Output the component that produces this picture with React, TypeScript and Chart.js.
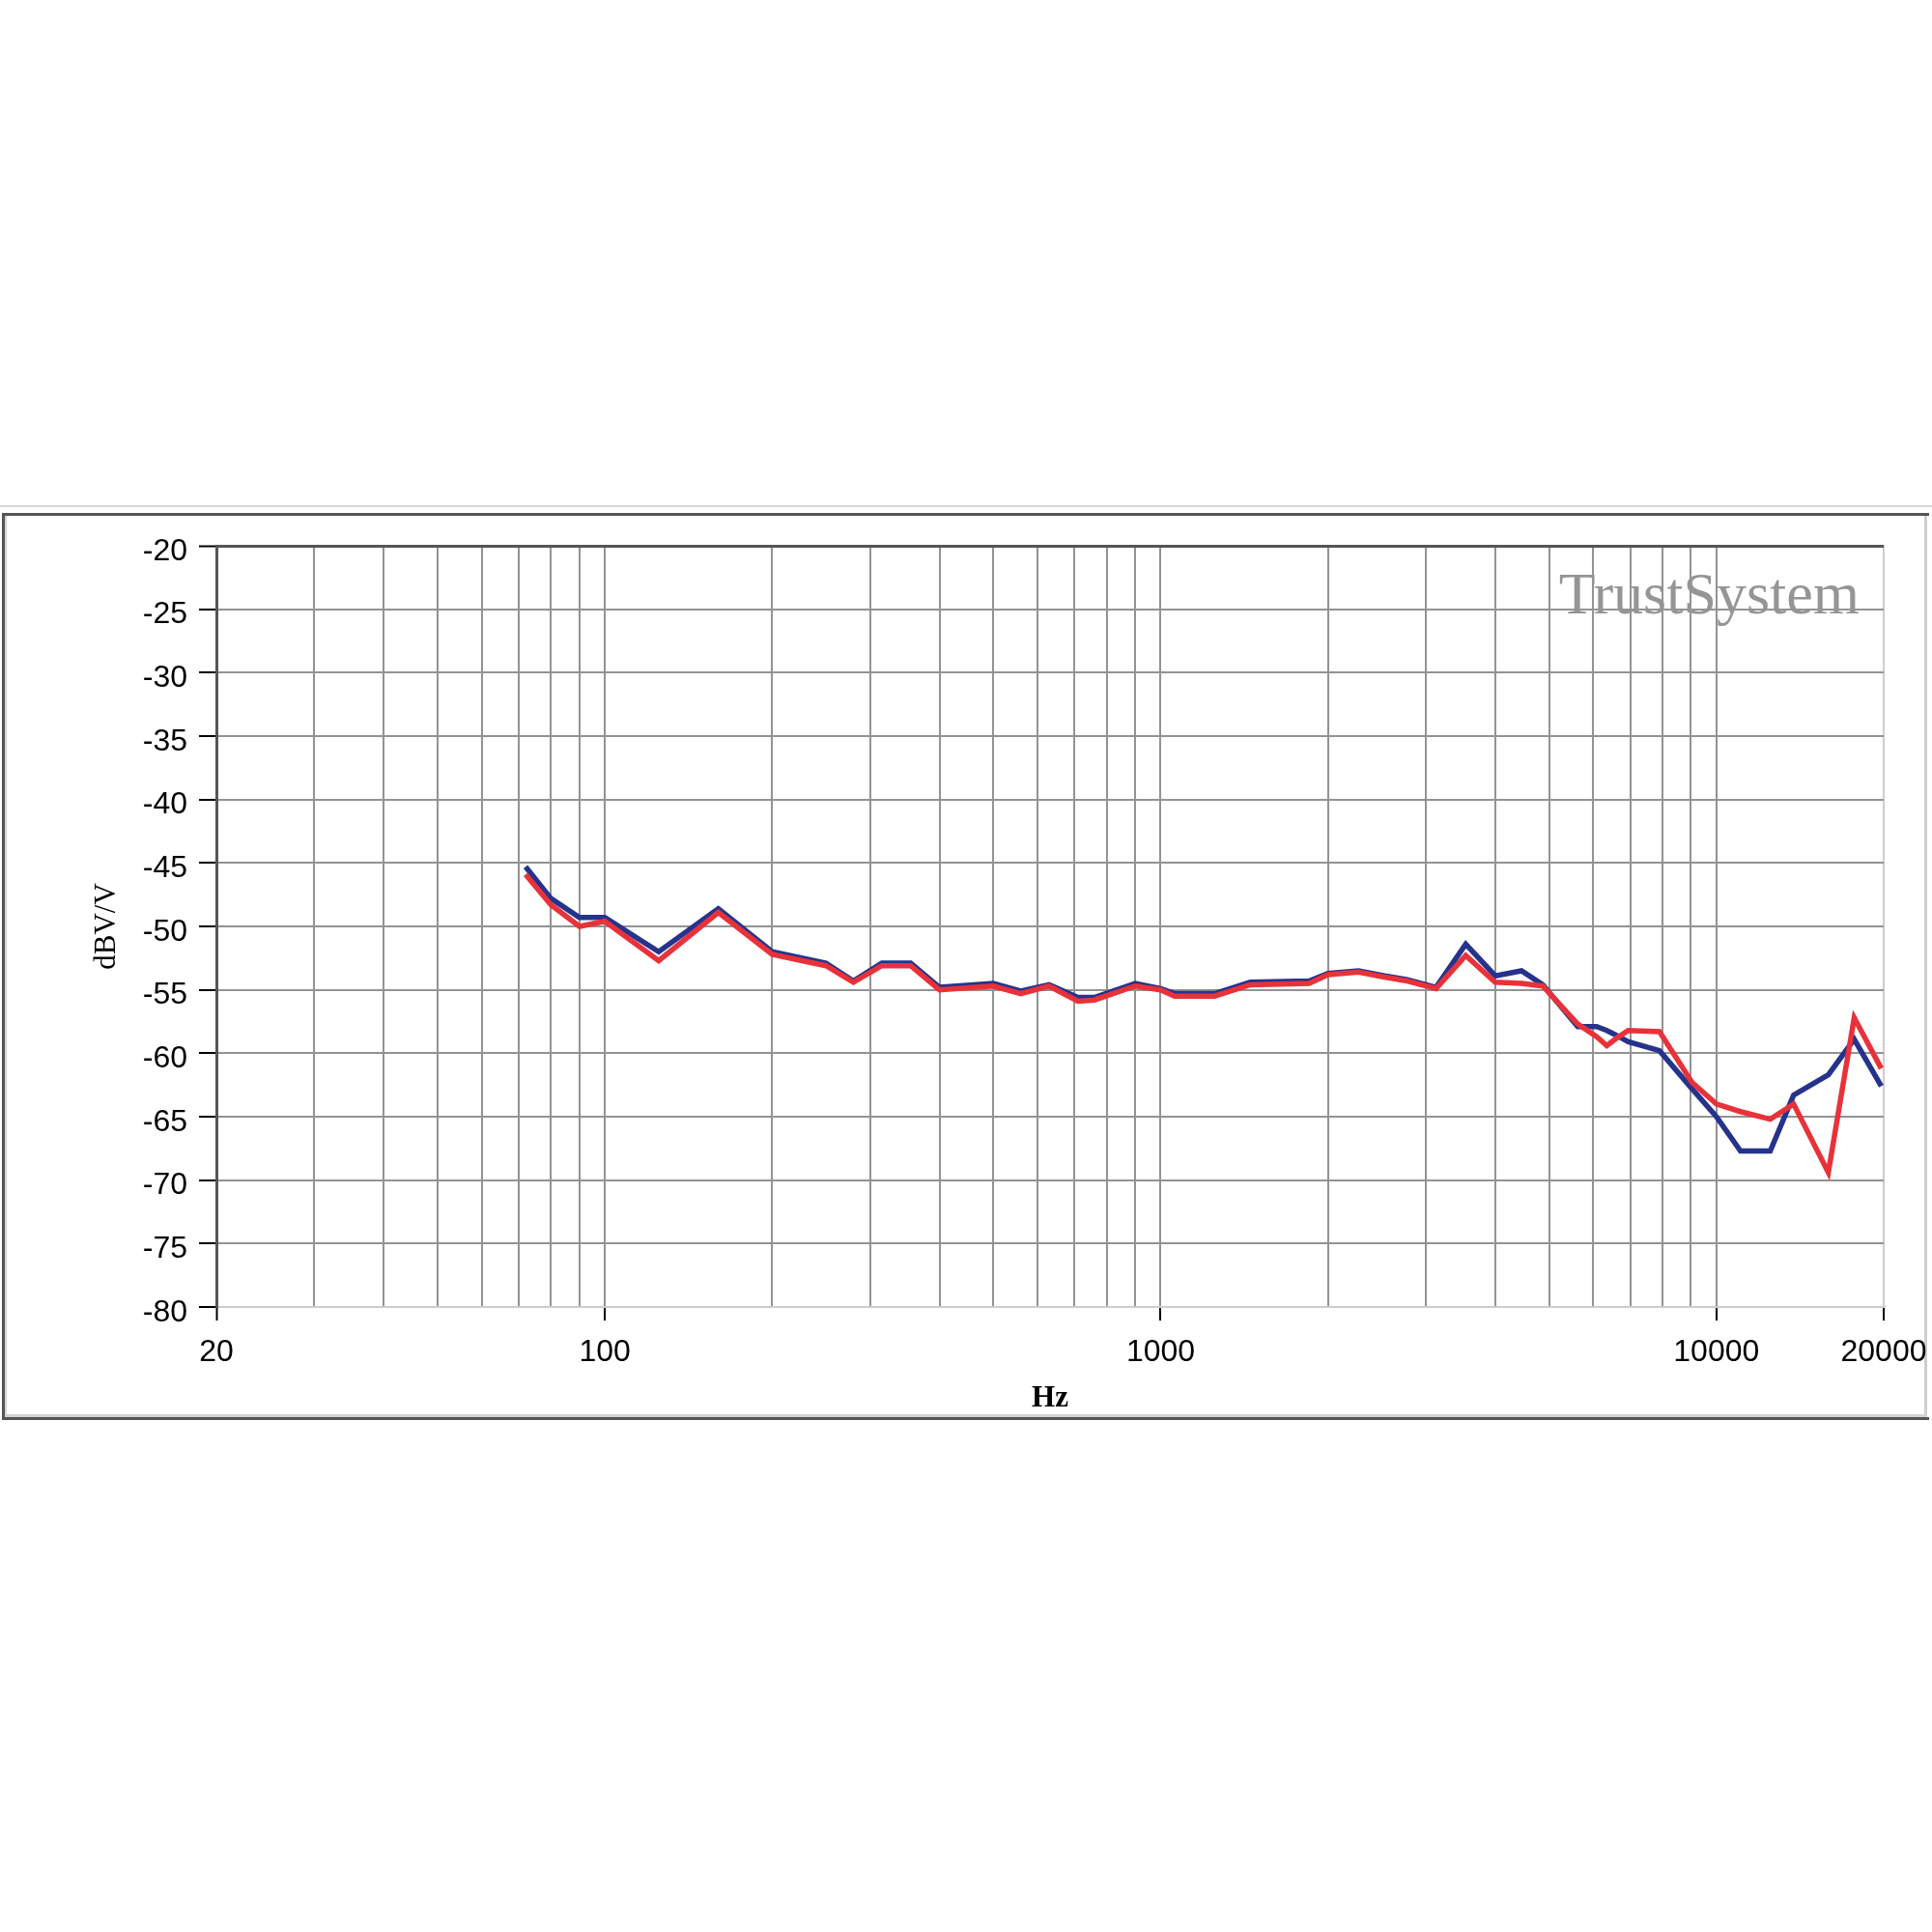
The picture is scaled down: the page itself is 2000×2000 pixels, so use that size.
import React, { useEffect, useRef } from 'react';
import { Chart, registerables } from 'chart.js';

Chart.register(...registerables);

// Frequency points (Hz)
const frequencies = [
  72, 80, 90, 100, 125, 160, 200, 250, 280, 315, 355, 400, 500, 560, 630, 710, 760, 900,
  1000, 1060, 1250, 1450, 1850, 2000, 2270, 2530, 2780, 3130, 3540, 4000, 4460, 4870,
  5630, 6090, 6350, 6620, 6940, 7900, 9040, 10000, 11050, 12500, 13770, 15900, 17700, 19800,
];

// Blue trace (dBV/V)
const blueValues = [
  -45.3, -47.8, -49.3, -49.3, -52.0, -48.6, -52.0, -52.9, -54.3, -52.9, -52.9, -54.8, -54.5, -55.1, -54.6, -55.6, -55.6, -54.5,
  -54.9, -55.3, -55.3, -54.4, -54.3, -53.7, -53.5, -53.9, -54.2, -54.8, -51.4, -53.9, -53.5, -54.6,
  -57.9, -57.9, -58.2, -58.6, -59.1, -59.8, -62.8, -65.0, -67.7, -67.7, -63.3, -61.7, -58.9, -62.6,
];

// Red trace (dBV/V)
const redValues = [
  -45.9, -48.3, -50.0, -49.6, -52.7, -48.9, -52.2, -53.1, -54.4, -53.1, -53.1, -55.0, -54.7, -55.3, -54.7, -55.9, -55.8, -54.7,
  -55.0, -55.5, -55.5, -54.6, -54.5, -53.8, -53.6, -54.0, -54.3, -54.9, -52.3, -54.4, -54.5, -54.7,
  -57.7, -58.7, -59.4, -58.8, -58.2, -58.3, -62.3, -64.0, -64.6, -65.2, -64.0, -69.4, -57.2, -61.2,
];

// Axis definitions
const xGridValues = [
  20, 30, 40, 50, 60, 70, 80, 90,
  100, 200, 300, 400, 500, 600, 700, 800, 900,
  1000, 2000, 3000, 4000, 5000, 6000, 7000, 8000, 9000,
  10000, 20000,
];
const xLabelValues = [20, 100, 1000, 10000, 20000];
const xMin = 20;
const xMax = 20000;
const yMin = -80;
const yMax = -20;
const yStep = 5;

const xTitle = 'Hz';
const yTitle = 'dBV/V';
const watermarkText = 'TrustSystem';

const DARK = '#555555';
const GRID = '#939393';
const LIGHT = '#cdcdcd';

const watermarkPlugin = {
  id: 'watermark',
  beforeDatasetsDraw(chart: any) {
    const { ctx, chartArea } = chart;
    ctx.save();
    ctx.font = '62px "Liberation Serif", "Times New Roman", serif';
    ctx.fillStyle = '#959595';
    ctx.textAlign = 'right';
    ctx.textBaseline = 'alphabetic';
    ctx.fillText(watermarkText, chartArea.right - 25, chartArea.top + 70);
    ctx.restore();
  },
};

export default function App() {
  const canvasRef = useRef<HTMLCanvasElement | null>(null);

  useEffect(() => {
    if (!canvasRef.current) return;
    const chart = new Chart(canvasRef.current, {
      type: 'line',
      data: {
        datasets: [
          {
            label: 'Red',
            data: frequencies.map((f, i) => ({ x: f, y: redValues[i] })),
            borderColor: '#e8323a',
            borderWidth: 5.5,
            pointRadius: 0,
            tension: 0,
            fill: false,
            order: 0,
          },
          {
            label: 'Blue',
            data: frequencies.map((f, i) => ({ x: f, y: blueValues[i] })),
            borderColor: '#25338c',
            borderWidth: 5.5,
            pointRadius: 0,
            tension: 0,
            fill: false,
            order: 1,
          },
        ],
      },
      options: {
        animation: false,
        responsive: false,
        maintainAspectRatio: false,
        devicePixelRatio: 1,
        layout: { padding: { left: 80, top: 565, right: 50, bottom: 533 } },
        plugins: {
          legend: { display: false },
          tooltip: { enabled: false },
        },
        scales: {
          x: {
            type: 'logarithmic',
            min: xMin,
            max: xMax,
            afterBuildTicks: (axis: any) => {
              axis.ticks = xGridValues.map((v) => ({ value: v }));
            },
            afterFit: (axis: any) => {
              axis.height = 114;
              axis.paddingLeft = 0;
              axis.paddingRight = 0;
            },
            ticks: {
              autoSkip: false,
              maxRotation: 0,
              minRotation: 0,
              padding: 14,
              color: '#000',
              font: { family: '"Liberation Sans", Arial, sans-serif', size: 32 },
              callback: (value: any) => (xLabelValues.includes(Number(value)) ? String(value) : ''),
            },
            grid: {
              drawTicks: true,
              tickLength: 14,
              tickWidth: 2,
              tickColor: (ctx: any) => (xLabelValues.includes(ctx.tick?.value) ? '#000' : 'rgba(0,0,0,0)'),
              color: (ctx: any) => {
                const v = ctx.tick?.value;
                if (v === xMin) return DARK;
                if (v === xMax) return LIGHT;
                return GRID;
              },
              lineWidth: (ctx: any) => (ctx.tick?.value === xMin ? 3 : 2),
            },
            border: { display: true, color: LIGHT, width: 2 },
            title: {
              display: true,
              text: xTitle,
              color: '#000',
              font: { family: '"Liberation Serif", "Times New Roman", serif', size: 31, weight: 'bold' },
              padding: { top: 0, bottom: 0 },
            },
          },
          y: {
            type: 'linear',
            min: yMin,
            max: yMax,
            afterFit: (axis: any) => {
              axis.width = 144;
              axis.paddingTop = 0;
              axis.paddingBottom = 0;
            },
            ticks: {
              stepSize: yStep,
              padding: 12,
              labelOffset: 6,
              color: '#000',
              font: { family: '"Liberation Sans", Arial, sans-serif', size: 32 },
            },
            grid: {
              drawTicks: true,
              tickLength: 18,
              tickWidth: 2,
              tickColor: '#000',
              color: (ctx: any) => {
                const v = ctx.tick?.value;
                if (v === yMax) return DARK;
                if (v === yMin) return LIGHT;
                return GRID;
              },
              lineWidth: (ctx: any) => (ctx.tick?.value === yMax ? 3 : 2),
            },
            border: { display: true, color: DARK, width: 3 },
            title: {
              display: true,
              text: yTitle,
              color: '#000',
              font: { family: '"Liberation Serif", "Times New Roman", serif', size: 31 },
              padding: { top: 12, bottom: 0 },
            },
          },
        },
      },
      plugins: [watermarkPlugin],
    } as any);
    return () => chart.destroy();
  }, []);

  return (
    <div style={{ position: 'absolute', left: 0, top: 0, width: 2000, height: 2000, background: '#fff', overflow: 'hidden' }}>
      <div style={{ position: 'absolute', left: 0, top: 523, width: 2000, height: 0, borderTop: '2px solid #d6d6d6' }} />
      <div
        style={{
          position: 'absolute',
          left: 2,
          top: 531,
          width: 1995,
          height: 939,
          boxSizing: 'border-box',
          borderTop: `3px solid ${DARK}`,
          borderLeft: `3px solid ${DARK}`,
          borderBottom: `3px solid ${DARK}`,
        }}
      >
        <div
          style={{
            position: 'absolute',
            left: 0,
            top: 0,
            right: 2,
            bottom: 0,
            boxSizing: 'border-box',
            borderLeft: '2px solid #d4d4d4',
            borderRight: '3px solid #cfcfcf',
            borderBottom: '3px solid #d4d4d4',
          }}
        />
      </div>
      <canvas ref={canvasRef} width={2000} height={2000} style={{ position: 'absolute', left: 0, top: 0, width: 2000, height: 2000 }} />
    </div>
  );
}
